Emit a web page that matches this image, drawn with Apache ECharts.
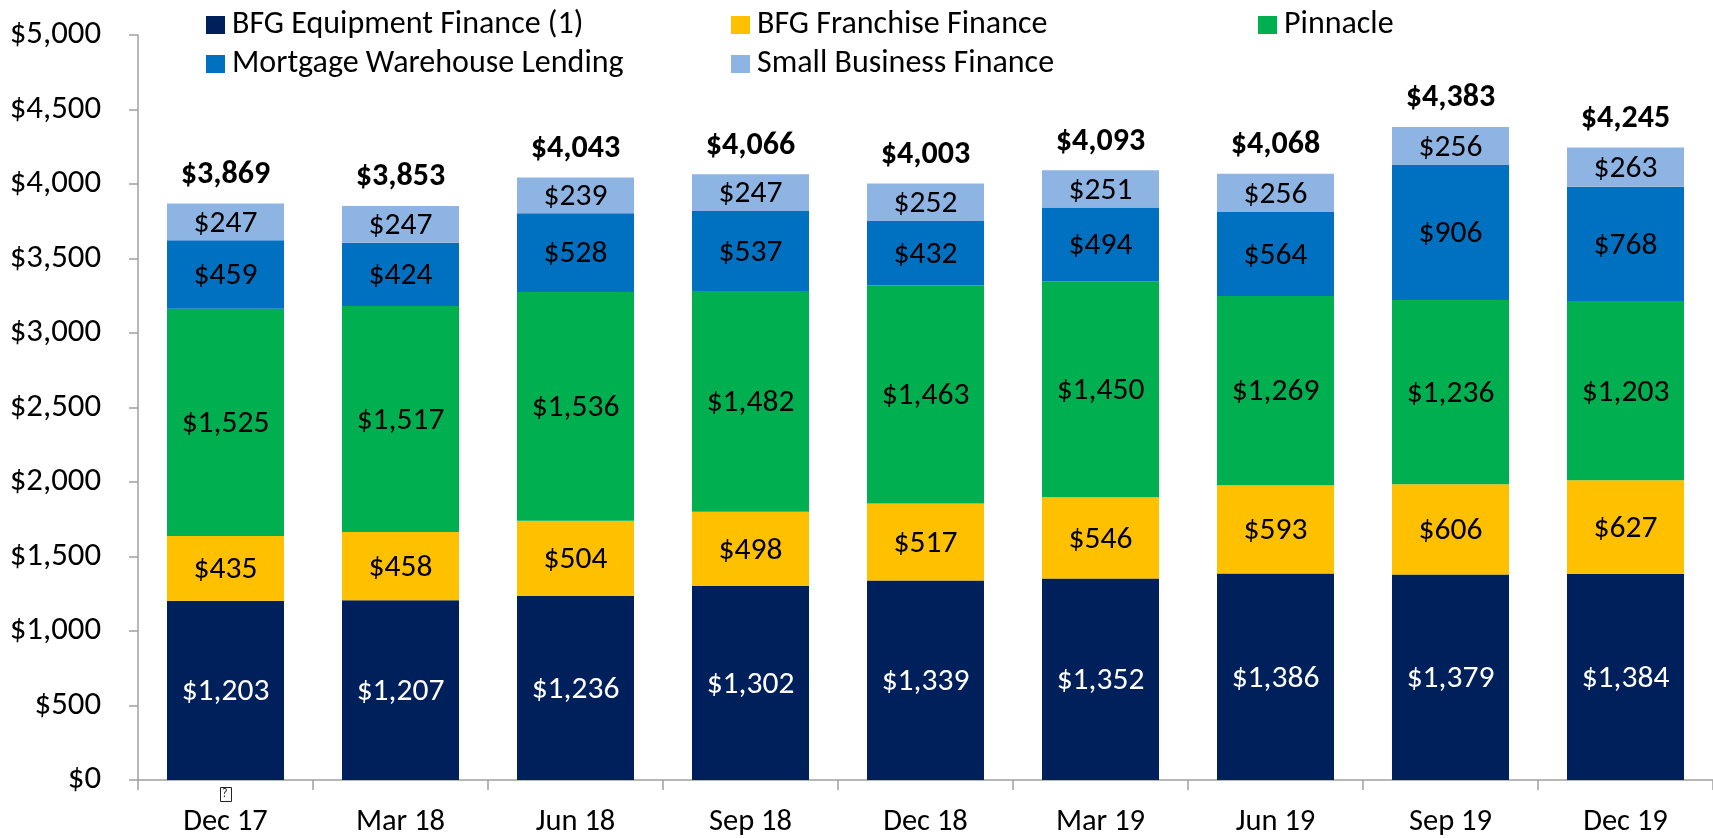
<!DOCTYPE html>
<html><head><meta charset="utf-8"><style>html,body{margin:0;padding:0;background:#fff}#c{width:1713px;height:838px}</style>
<script src="https://cdn.jsdelivr.net/npm/echarts@6/dist/echarts.min.js"></script></head>
<body><div id="c"></div><script>
const categories=['Dec 17','Mar 18','Jun 18','Sep 18','Dec 18','Mar 19','Jun 19','Sep 19','Dec 19'];
const equipment=[1203,1207,1236,1302,1339,1352,1386,1379,1384];
const franchise=[435,458,504,498,517,546,593,606,627];
const pinnacle=[1525,1517,1536,1482,1463,1450,1269,1236,1203];
const mortgage=[459,424,528,537,432,494,564,906,768];
const smallBiz=[247,247,239,247,252,251,256,256,263];
const totals=[3869,3853,4043,4066,4003,4093,4068,4383,4245];
const font='Carlito, Lato, "Open Sans", sans-serif';
const fmt=v=>'$'+v.toLocaleString('en-US');
function s(name,data,color,tc){return {name,type:'bar',stack:'a',data,barWidth:117,itemStyle:{color},
 label:{show:true,position:'inside',offset:[0,2],color:tc,fontFamily:font,fontSize:31.5,formatter:p=>fmt(p.value)}}}
function lg(name,left,top){return {data:[name],left,top,itemWidth:19,itemHeight:18,itemGap:0,icon:'rect',padding:0,
 textStyle:{fontSize:32,fontFamily:font,color:'#000',padding:[2,0,0,2]}}}
const chart=echarts.init(document.getElementById('c'));
const axisColor='#A0A0A0';
chart.setOption({animation:false,backgroundColor:'#fff',
 grid:{left:138,right:0,top:35,bottom:58},
 legend:[lg('BFG Equipment Finance (1)',206,9),lg('BFG Franchise Finance',731,9),lg('Pinnacle',1258,9),
  lg('Mortgage Warehouse Lending',206,48),lg('Small Business Finance',731,48)],
 graphic:[{type:'rect',left:220,top:787,shape:{width:11,height:14},style:{fill:'#fff',stroke:'#222',lineWidth:1}},
  {type:'text',left:222,top:788,style:{text:'?',fontSize:12,fontFamily:font,fill:'#222'}}],
 xAxis:{type:'category',data:categories,axisTick:{show:true,length:10,lineStyle:{color:axisColor,width:1.5}},axisLine:{lineStyle:{color:axisColor,width:1.5}},
  axisLabel:{color:'#000',fontSize:30.5,fontFamily:font,margin:27}},
 yAxis:{type:'value',min:0,max:5000,interval:500,axisLine:{show:true,lineStyle:{color:axisColor,width:1.5}},axisTick:{show:true,length:9,lineStyle:{color:axisColor,width:1.5}},splitLine:{show:false},
  axisLabel:{color:'#000',fontSize:32.8,fontFamily:font,margin:37,formatter:fmt}},
 series:[s('BFG Equipment Finance (1)',equipment,'#00205C','#fff'),s('BFG Franchise Finance',franchise,'#FFC000','#000'),s('Pinnacle',pinnacle,'#00B050','#000'),s('Mortgage Warehouse Lending',mortgage,'#0070C0','#000'),s('Small Business Finance',smallBiz,'#8EB4E3','#000'),
 {name:'Total',type:'line',data:totals,symbol:'circle',symbolSize:1,itemStyle:{opacity:0},lineStyle:{opacity:0},
  label:{show:true,position:'top',distance:12,opacity:1,color:'#000',fontWeight:'bold',fontFamily:font,fontSize:32,formatter:p=>fmt(p.value)}}]
});
</script></body></html>
